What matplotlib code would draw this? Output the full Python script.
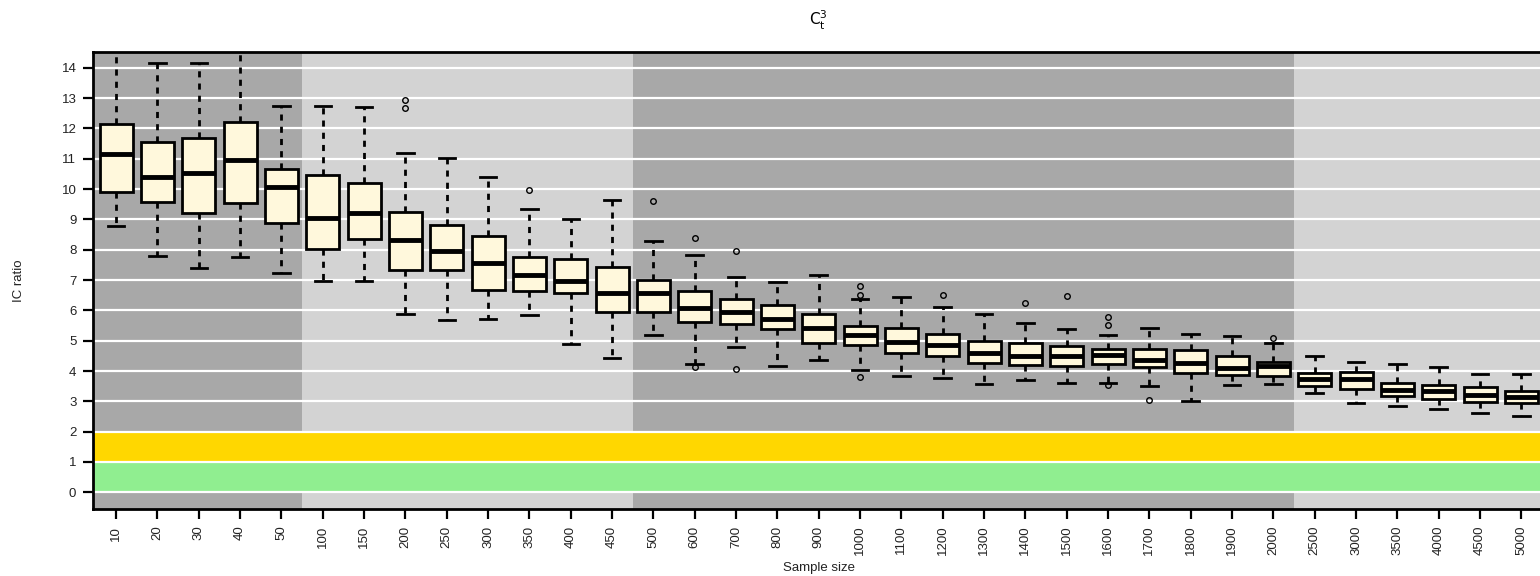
import matplotlib
matplotlib.use("Agg")
import matplotlib.pyplot as plt

plt.rcParams['font.family'] = ['Liberation Sans', 'DejaVu Sans']
plt.rcParams['mathtext.fontset'] = 'dejavusans'

sizes = [10, 20, 30, 40, 50, 100, 150, 200, 250, 300, 350, 400, 450,
         500, 600, 700, 800, 900, 1000, 1100, 1200, 1300, 1400, 1500, 1600,
         1700, 1800, 1900, 2000, 2500, 3000, 3500, 4000, 4500, 5000]
whislo = [8.78, 7.80, 7.39, 7.75, 7.22, 6.96, 6.96, 5.87, 5.68, 5.70, 5.84, 4.88, 4.42,
          5.20, 4.22, 4.78, 4.17, 4.35, 4.04, 3.82, 3.77, 3.57, 3.69, 3.62, 3.62,
          3.49, 3.00, 3.53, 3.56, 3.27, 2.93, 2.86, 2.74, 2.62, 2.52]
q1 = [9.91, 9.58, 9.20, 9.53, 8.87, 8.04, 8.35, 7.34, 7.32, 6.67, 6.63, 6.58, 5.95,
      5.94, 5.63, 5.55, 5.38, 4.91, 4.87, 4.61, 4.48, 4.27, 4.20, 4.16, 4.23,
      4.14, 3.93, 3.88, 3.83, 3.52, 3.41, 3.17, 3.09, 2.99, 2.96]
med = [11.17, 10.41, 10.52, 10.95, 10.08, 9.04, 9.21, 8.32, 7.96, 7.57, 7.18, 6.97, 6.56,
       6.57, 6.07, 5.95, 5.71, 5.41, 5.20, 4.95, 4.87, 4.61, 4.50, 4.48, 4.53,
       4.36, 4.28, 4.10, 4.17, 3.75, 3.73, 3.38, 3.33, 3.20, 3.14]
q3 = [12.13, 11.56, 11.68, 12.21, 10.67, 10.48, 10.19, 9.25, 8.80, 8.45, 7.75, 7.71, 7.43,
      7.00, 6.63, 6.39, 6.18, 5.87, 5.49, 5.41, 5.23, 5.00, 4.94, 4.82, 4.71,
      4.73, 4.70, 4.51, 4.31, 3.95, 3.97, 3.62, 3.55, 3.47, 3.34]
whishi = [15.2, 14.17, 14.17, 15.2, 12.75, 12.75, 12.70, 11.18, 11.01, 10.39, 9.34, 9.00, 9.63,
          8.29, 7.82, 7.10, 6.95, 7.16, 6.39, 6.43, 6.10, 5.89, 5.59, 5.39, 5.20,
          5.42, 5.21, 5.15, 4.93, 4.51, 4.31, 4.22, 4.13, 3.90, 3.90]
outliers = [[], [], [], [], [], [], [], [12.93, 12.66], [], [], [9.98], [], [],
            [9.6], [8.37, 4.12], [7.96, 4.07], [], [], [6.82, 6.52, 3.80], [], [6.51], [], [6.23], [6.47], [5.77, 5.51, 3.53],
            [3.06], [], [], [5.09], [], [], [], [], [], []]

# background shading groups (number of categories per group) and colours
group_counts = [5, 8, 16, 6]
group_colors = ['#A8A8A8', '#D3D3D3', '#A8A8A8', '#D3D3D3']

fig = plt.figure(figsize=(15.4, 5.76), dpi=100)
sp = 41.33
ax = fig.add_axes([93 / 1540, 67 / 576, (35.12 * sp) / 1540, 457 / 576])

start = 0
for n, c in zip(group_counts, group_colors):
    lo = start - 0.5 if start > 0 else -2
    hi = start + n - 0.5 if start + n < len(sizes) else 40
    ax.axvspan(lo, hi, color=c, zorder=0, lw=0)
    start += n

ax.axhspan(1, 2, color='#FFD700', zorder=0.5, lw=0)
ax.axhspan(0, 1, color='#90EE90', zorder=0.5, lw=0)
for y in range(0, 15):
    ax.axhline(y, color='white', lw=1.6, zorder=1)

stats = []
for i in range(len(sizes)):
    stats.append(dict(med=med[i], q1=q1[i], q3=q3[i], whislo=whislo[i],
                      whishi=whishi[i], fliers=outliers[i]))

ax.bxp(stats, positions=list(range(len(sizes))), widths=0.8, capwidths=0.4,
       patch_artist=True, manage_ticks=False,
       boxprops=dict(facecolor='#FFF8DC', edgecolor='black', linewidth=2),
       medianprops=dict(color='black', linewidth=3.5, solid_capstyle='butt'),
       whiskerprops=dict(color='black', linestyle=(0, (2.2, 2.2)), linewidth=2),
       capprops=dict(color='black', linewidth=2),
       flierprops=dict(marker='o', markerfacecolor='none', markeredgecolor='black',
                       markersize=4, markeredgewidth=1))

ax.set_xlim(-0.56, 34.56)
ax.set_ylim(-0.55, 14.52)
ax.set_xticks(range(len(sizes)))
ax.set_xticklabels([str(s) for s in sizes], rotation=90, fontsize=9.5, color='#222222')
ax.set_yticks(range(0, 15))
ax.set_yticklabels([str(v) for v in range(0, 15)], fontsize=9.5, color='#222222')
ax.tick_params(direction='out', length=7, width=1.6, color='black', pad=5)

for s in ['left', 'bottom', 'top']:
    ax.spines[s].set_linewidth(2)
ax.spines['right'].set_visible(False)

ax.set_xlabel('Sample size', fontsize=9.5, color='#222222')
ax.xaxis.set_label_coords(0.5, -0.115)
ax.set_ylabel('IC ratio', fontsize=9.5, color='#222222')
ax.yaxis.set_label_coords(-0.047, 0.5)
ax.set_title(r'$\mathrm{C}_\mathrm{t}^\mathrm{3}$', fontsize=11, pad=19)

fig.savefig('out.png', dpi=100)
